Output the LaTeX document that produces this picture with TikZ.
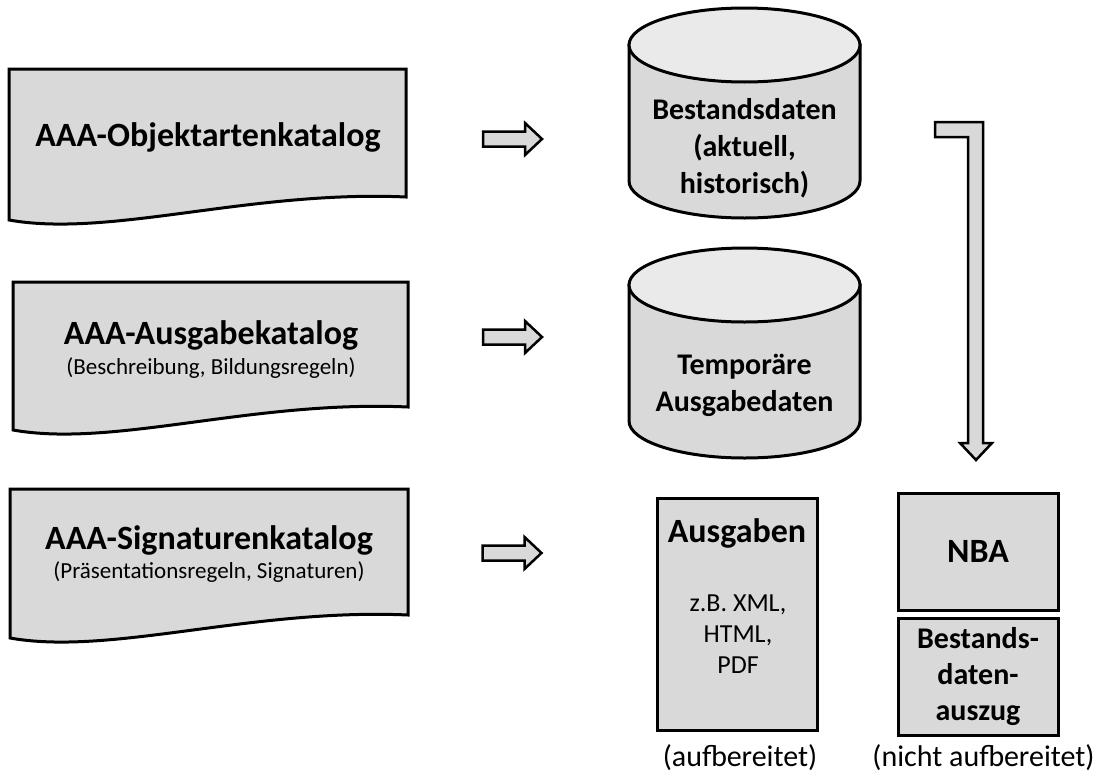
\documentclass[tikz,border=0pt]{standalone}
\usepackage{fontspec}
\setmainfont{Carlito}

\definecolor{boxgray}{RGB}{217,217,217}
\definecolor{topgray}{RGB}{234,234,234}

% left, top, right, lower right
\newcommand{\katalog}[4]{%
  \draw[katalogbox] (#1,#2) -- (#3,#2) -- (#3,#4)
    .. controls (#3-156,#4-7) and (#1+101,#4+41) .. (#1,#4+23) -- cycle;
}
% centre x, top, bottom
\newcommand{\datenbank}[3]{%
  \draw[dbbox] (#1-115.5,#2+37) -- (#1-115.5,#3-37)
    arc[start angle=180,end angle=360,x radius=115.5pt,y radius=37pt]
    -- (#1+115.5,#2+37) -- cycle;
  \draw[dbbox,fill=topgray] (#1,#2+37) ellipse[x radius=115.5pt,y radius=37pt];
}
% centre x, centre y
\newcommand{\blockpfeil}[2]{%
  \draw[pfeilrand] (#1-29.5,#2-7.5) -- (#1+12.5,#2-7.5) -- (#1+12.5,#2-16)
    -- (#1+29.5,#2) -- (#1+12.5,#2+16) -- (#1+12.5,#2+7.5) -- (#1-29.5,#2+7.5) -- cycle;
}

\begin{document}
\begin{tikzpicture}[x=1pt,y=-1pt,
  katalogbox/.style={draw,line width=3pt,fill=boxgray},
  dbbox/.style={draw,line width=3pt,fill=boxgray},
  kasten/.style={draw,line width=3pt,fill=boxgray,inner sep=0pt},
  pfeilrand/.style={draw,line width=2.5pt,fill=boxgray,line join=miter},
  titel/.style={font=\bfseries\fontsize{34}{40}\selectfont},
  zusatz/.style={font=\fontsize{23}{28}\selectfont},
  dbtext/.style={font=\bfseries\fontsize{30}{37}\selectfont,align=center},
  normal/.style={font=\fontsize{30}{36}\selectfont}]
\useasboundingbox (0,0) rectangle (1109,779);

\katalog{9}{69}{406}{197}
\katalog{13}{282}{408}{407}
\katalog{10}{489}{408}{615}
\node[titel] (kat1) at (208,137) {AAA-Objektartenkatalog};
\node[titel] (kat2) at (211,335) {AAA-Ausgabekatalog};
\node[zusatz] (kat2z) at (211,368) {(Beschreibung, Bildungsregeln)};
\node[titel] (kat3) at (209,540) {AAA-Signaturenkatalog};
\node[zusatz] (kat3z) at (209,572) {(Präsentationsregeln, Signaturen)};

\blockpfeil{512.5}{139}
\blockpfeil{512.5}{337}
\blockpfeil{512}{553}

\datenbank{744.5}{8}{218}
\datenbank{744.5}{248}{458}
\node[dbtext] (bestand) at (744.5,148) {Bestandsdaten\\(aktuell,\\historisch)};
\node[dbtext] (temp) at (744.5,385) {Temporäre\\Ausgabedaten};

\draw[pfeilrand] (935,122) -- (983,122) -- (983,443) -- (992,443)
  -- (976,460) -- (960,443) -- (968,443) -- (968,137) -- (935,137) -- cycle;

\node[kasten,minimum width=160,minimum height=232] (ausgaben) at (737,614) {};
\node[titel] (ausgabent) at (737,533) {Ausgaben};
\node[align=center,font=\fontsize{26}{31}\selectfont] (formate) at (738,634) {z.B. XML,\\HTML,\\PDF};

\node[kasten,minimum width=160,minimum height=117,titel] (nba) at (978,551.5) {NBA};
\node[kasten,minimum width=160,minimum height=117,dbtext,font=\bfseries\fontsize{30}{36}\selectfont] (auszug) at (978,676.5) {Bestands-\\daten-\\auszug};

\node[normal] (lab1) at (740,758) {(aufbereitet)};
\node[normal] (lab2) at (983.5,758) {(nicht aufbereitet)};
\end{tikzpicture}
\end{document}
